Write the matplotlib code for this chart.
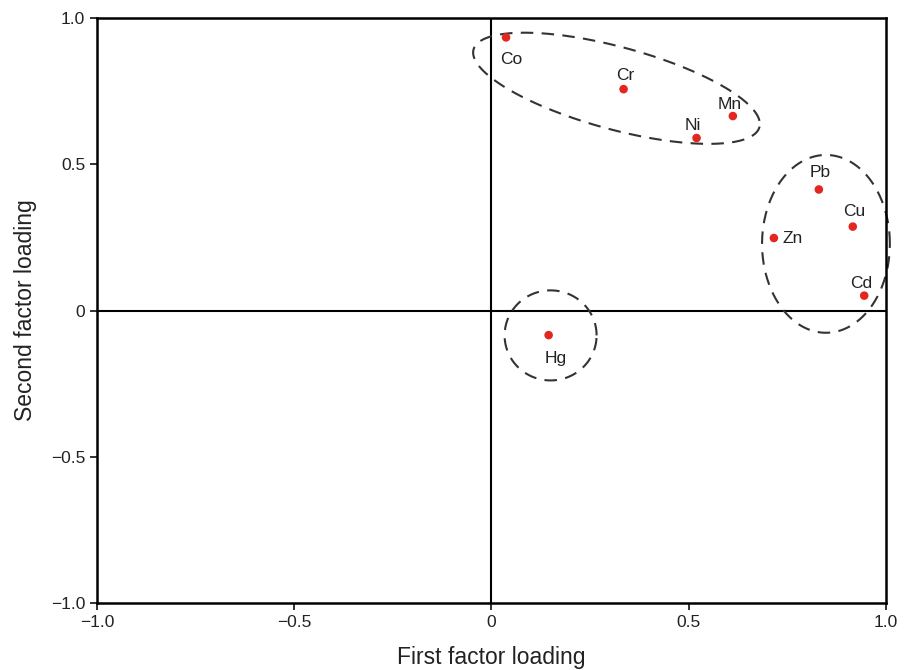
import numpy as np
import matplotlib.pyplot as plt
from matplotlib import font_manager

names = {f.name for f in font_manager.fontManager.ttflist}
fam = 'Liberation Sans Narrow' if 'Liberation Sans Narrow' in names else 'Liberation Sans'
plt.rcParams['font.family'] = [fam, 'DejaVu Sans']

# ---- data: factor loadings ----
elements = ['Co', 'Cr', 'Ni', 'Mn', 'Pb', 'Cu', 'Zn', 'Cd', 'Hg']
factor1 = [0.037, 0.335, 0.520, 0.612, 0.830, 0.916, 0.716, 0.945, 0.145]
factor2 = [0.934, 0.757, 0.590, 0.665, 0.414, 0.287, 0.248, 0.051, -0.084]
# label offsets (points) and alignment
label_dx = [4, 1, -3, -2, 1, 1, 6, -2, 5]
label_dy = [-16, 10, 9, 8, 12, 11, 0, 9, -17]
label_ha = ['center'] * 6 + ['left', 'center', 'center']

ticks = [-1.0, -0.5, 0, 0.5, 1.0]
tick_labels = ['\u22121.0', '\u22120.5', '0', '0.5', '1.0']

# group outlines: center, half-axis vector U, half-axis vector V (data units)
groups = [
    ((0.317, 0.760), (0.3625, -0.1114), (-0.0260, 0.154)),
    ((0.848, 0.228), (0.162, 0.0), (0.0, 0.304)),
    ((0.150, -0.085), (0.1166, 0.0), (0.0, 0.154)),
]

fig = plt.figure(figsize=(9.19, 6.70), dpi=100)
ax = fig.add_axes([0.1055, 0.1, 0.8585, 0.873])

ax.axhline(0, color='black', lw=1.5, zorder=1)
ax.axvline(0, color='black', lw=1.5, zorder=1)

t = np.linspace(0, 2 * np.pi, 400)
for c, u, v in groups:
    gx = c[0] + u[0] * np.cos(t) + v[0] * np.sin(t)
    gy = c[1] + u[1] * np.cos(t) + v[1] * np.sin(t)
    ax.plot(gx, gy, color='#333333', lw=1.5, dashes=(6, 4), zorder=2, clip_on=False)

ax.scatter(factor1, factor2, s=38, color='#e3261f', zorder=3, edgecolors='none')
for name, x, y, dx, dy, ha in zip(elements, factor1, factor2, label_dx, label_dy, label_ha):
    ax.annotate(name, (x, y), xytext=(dx, dy), textcoords='offset points',
                ha=ha, va='center', fontsize=12.5, color='#222222')

ax.set_xlim(-1, 1)
ax.set_ylim(-1, 1)
ax.set_xticks(ticks)
ax.set_xticklabels(tick_labels)
ax.set_yticks(ticks)
ax.set_yticklabels(tick_labels)
ax.tick_params(direction='out', length=5, width=1.3, labelsize=12.5, colors='#222222')
for s in ax.spines.values():
    s.set_linewidth(1.8)

ax.set_xlabel('First factor loading', fontsize=16.5, color='#222222', labelpad=12)
ax.set_ylabel('Second factor loading', fontsize=16.5, color='#222222', labelpad=10)

fig.savefig('out.png', dpi=100)
